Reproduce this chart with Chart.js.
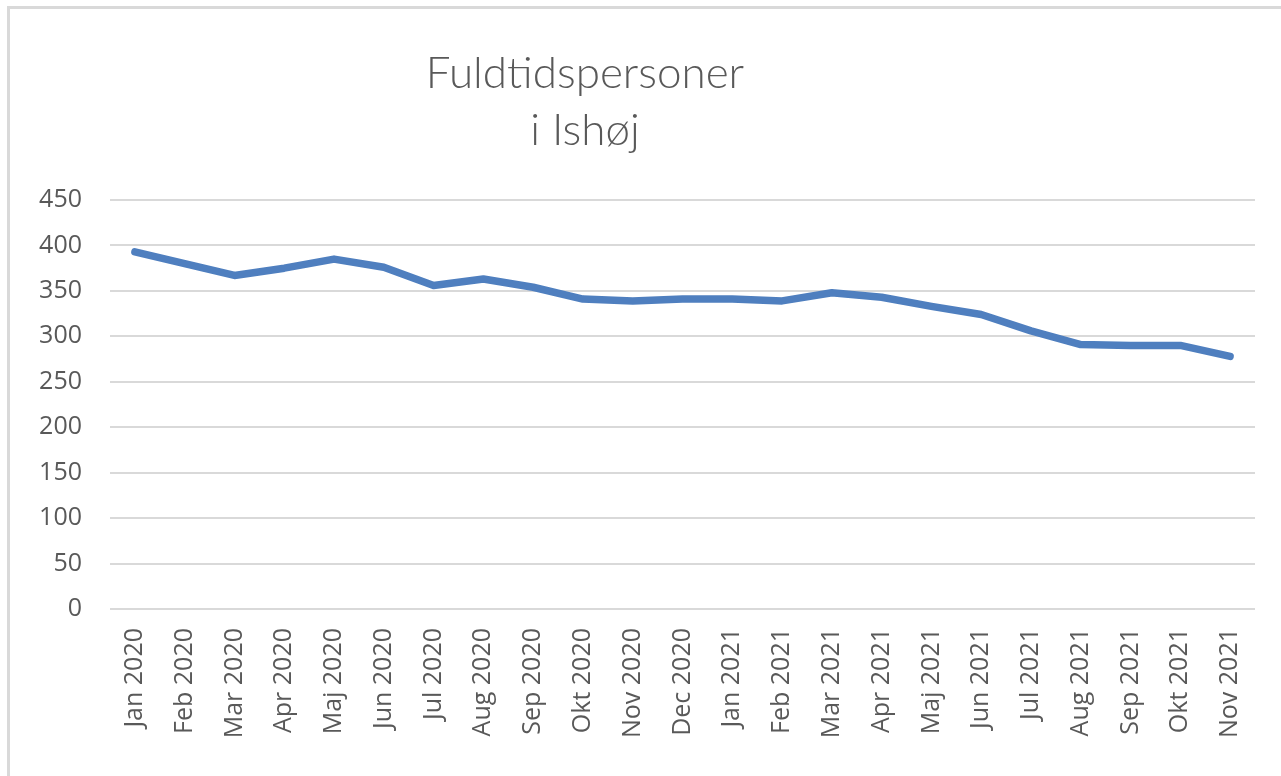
<!DOCTYPE html>
<html>
<head>
<meta charset="utf-8">
<script src="https://cdn.jsdelivr.net/npm/chart.js@4"></script>
<style>
  body { margin: 0; background: #fff; }
  #frame { position: absolute; left: 7px; top: 6px; width: 1274px; height: 770px;
           border-top: 3px solid #d9d9d9; border-left: 3px solid #d9d9d9; box-sizing: border-box; }
  #wrap { position: absolute; left: 0; top: 0; width: 1281px; height: 776px; }
</style>
</head>
<body>
<div id="frame"></div>
<div id="wrap"><canvas id="chart"></canvas></div>
<script>
const months = ["Jan 2020", "Feb 2020", "Mar 2020", "Apr 2020", "Maj 2020", "Jun 2020",
  "Jul 2020", "Aug 2020", "Sep 2020", "Okt 2020", "Nov 2020", "Dec 2020",
  "Jan 2021", "Feb 2021", "Mar 2021", "Apr 2021", "Maj 2021", "Jun 2021",
  "Jul 2021", "Aug 2021", "Sep 2021", "Okt 2021", "Nov 2021"];
const fuldtid = [393, 380, 367, 375, 385, 376, 356, 363, 354, 341, 339, 341,
  341, 339, 348, 343, 333, 324, 306, 291, 290, 290, 278];
const titleLines = ["Fuldtidspersoner", "i Ishøj"];
const yTicks = [0, 50, 100, 150, 200, 250, 300, 350, 400, 450];

// Excel puts the title a bit left of centre, so draw it ourselves
const titlePlugin = {
  id: "excelTitle",
  afterDraw(chart) {
    const c = chart.ctx;
    c.save();
    c.fillStyle = "#595959";
    c.font = "300 44px Lato";
    c.textAlign = "center";
    c.textBaseline = "alphabetic";
    c.fillText(titleLines[0], 585, 88);
    c.fillText(titleLines[1], 585, 145);
    c.restore();
  }
};

const ctx = document.getElementById("chart").getContext("2d");
new Chart(ctx, {
  type: "line",
  data: {
    labels: months,
    datasets: [{
      data: fuldtid,
      borderColor: "#4f7fbf",
      borderWidth: 7.5,
      borderCapStyle: "round",
      borderJoinStyle: "round",
      pointRadius: 0,
      tension: 0
    }]
  },
  options: {
    responsive: true,
    maintainAspectRatio: false,
    animation: false,
    layout: { padding: { top: 200, right: 26, left: 0, bottom: 0 } },
    plugins: {
      legend: { display: false },
      title: { display: false },
      tooltip: { enabled: false }
    },
    scales: {
      x: {
        offset: true,
        grid: { display: false, drawTicks: false },
        border: { display: false },
        ticks: {
          color: "#595959",
          font: { family: "Open Sans", size: 25 },
          minRotation: 90,
          maxRotation: 90,
          autoSkip: false,
          padding: 19
        },
        afterFit: s => { s.height = 167; }
      },
      y: {
        min: 0,
        max: 450,
        afterBuildTicks: s => { s.ticks = yTicks.map(v => ({ value: v })); },
        grid: { color: "#d9d9d9", lineWidth: 2, drawTicks: false },
        border: { display: false },
        ticks: {
          color: "#595959",
          font: { family: "Open Sans", size: 25 },
          padding: 28
        },
        afterFit: s => { s.width = 110; }
      }
    }
  },
  plugins: [titlePlugin]
});
</script>
</body>
</html>
